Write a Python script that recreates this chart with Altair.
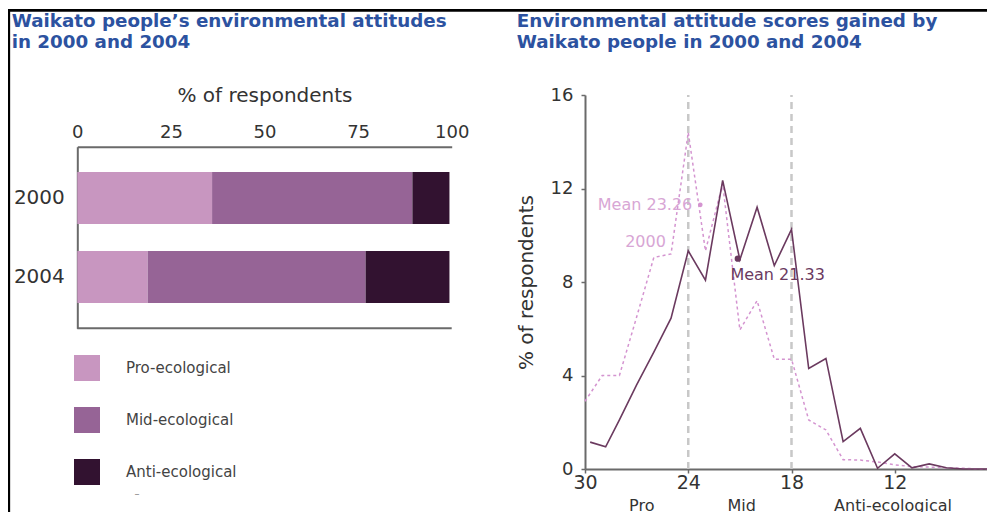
import altair as alt
import pandas as pd

# ---------------- data ----------------
years = ["2000", "2004"]
attitudes = ["Pro-ecological", "Mid-ecological", "Anti-ecological"]
share_2000 = [36.0, 53.5, 9.9]
share_2004 = [18.8, 58.2, 22.4]

scores = [30, 29, 28, 27, 26, 25, 24, 23, 22, 21, 20, 19, 18,
          17, 16, 15, 14, 13, 12, 11, 10, 9, 8, 7, 6]
scores_2004 = [29.7, 28.8, 28, 27, 26, 25, 24, 23, 22, 21, 20, 19, 18,
               17, 16, 15, 14, 13, 12, 11, 10, 9, 8, 7, 6]
pct_2000 = [2.9, 4.0, 4.0, 6.5, 9.05, 9.2, 14.4, 9.33, 12.2, 5.95, 7.2, 4.7, 4.7,
            2.1, 1.67, 0.4, 0.38, 0.3, 0.18, 0.1, 0.08, 0.05, 0.03, 0.0, 0.0]
pct_2004 = [1.15, 0.95, 2.1, 3.6, 5.0, 6.45, 9.33, 8.08, 12.35, 8.95, 11.2, 8.7, 10.25,
            4.3, 4.73, 1.17, 1.74, 0.03, 0.65, 0.05, 0.22, 0.05, 0.0, 0.0, 0.0]

mean_labels = ["Mean 23.26", "Mean 21.33"]
mean_dot_score = [23.3, 21.12]
mean_dot_pct = [11.3, 9.0]
mean_label_score = [23.3, 21.55]
mean_label_pct = [11.3, 8.3]
series_label = "2000"
series_label_score = 25.3
series_label_pct = 9.7

bar_ticks = [0, 25, 50, 75, 100]
score_ticks = [30, 24, 18, 12, 6]
pct_ticks = [0, 4, 8, 12, 16]
band_bounds = [24, 18]
band_names = ["Pro", "Mid", "Anti-ecological"]
band_label_score = [26.7, 20.9, 12.1]

left_title = "Waikato people\u2019s environmental attitudes\nin 2000 and 2004"
right_title = "Environmental attitude scores gained by\nWaikato people in 2000 and 2004"
axis_title = "% of respondents"

# ---------------- style ----------------
FONT = "DejaVu Sans"
PRO, MID, ANTI = "#c896c0", "#966496", "#321230"
C2000, C2004 = "#d494d0", "#6b3a5f"
C2000_TXT = "#d8a6d5"
TITLE_BLUE = "#2c52a0"
AXIS_GREY = "#6a6a6a"
TEXT = "#333333"

W, H = 979, 504

bar_x = alt.Scale(domain=[0, 100], range=[69.3, 443.7], nice=False, zero=False)
bar_y = alt.Scale(domain=years, range=[138.7, 320.3], paddingInner=0.34, paddingOuter=0.32)
sx = alt.Scale(domain=[30, 6], range=[577, 990], nice=False, zero=False)
sy = alt.Scale(domain=[0, 16], range=[461, 87], nice=False, zero=False)

# ---------------- tables ----------------
bar_rows = []
for yr, shares in zip(years, [share_2000, share_2004]):
    for i, (a, v) in enumerate(zip(attitudes, shares)):
        bar_rows.append({"year": yr, "attitude": a, "share": v, "rank": i})
bar_df = pd.DataFrame(bar_rows)

df2000 = pd.DataFrame({"score": scores, "pct": pct_2000})
df2004 = pd.DataFrame({"score": scores_2004, "pct": pct_2004})
dots_df = pd.DataFrame({"score": mean_dot_score, "pct": mean_dot_pct, "year": years})
mlab_df = pd.DataFrame({"score": mean_label_score, "pct": mean_label_pct,
                        "label": mean_labels, "year": years})
bounds_df = pd.DataFrame({"score": band_bounds})
bands_df = pd.DataFrame({"score": band_label_score, "name": band_names})

# ---------------- left panel ----------------
bars = alt.Chart(bar_df).mark_bar(strokeWidth=0, opacity=1).encode(
    x=alt.X("share:Q", stack="zero", scale=bar_x,
            axis=alt.Axis(orient="top", offset=-138.7, values=bar_ticks, title=axis_title,
                          titleFontSize=20, titlePadding=18, labelFontSize=18, labelPadding=5,
                          tickSize=0, labelFlush=False, domainColor=AXIS_GREY, domainWidth=2,
                          labelColor=TEXT, titleColor=TEXT)),
    y=alt.Y("year:N", scale=bar_y,
            axis=alt.Axis(orient="left", offset=-69.3, title=None, ticks=False,
                          labelFontSize=20, labelPadding=13, domainColor=AXIS_GREY,
                          domainWidth=2, labelColor=TEXT)),
    color=alt.Color("attitude:N", scale=alt.Scale(domain=attitudes, range=[PRO, MID, ANTI]),
                    legend=alt.Legend(orient="none", legendX=66, legendY=347, title=None,
                                      direction="vertical", symbolType="square",
                                      symbolSize=676, symbolStrokeWidth=0, symbolOpacity=1,
                                      labelFontSize=15, labelColor="#444444", labelOffset=26,
                                      rowPadding=26, padding=0)),
    order=alt.Order("rank:Q"),
)

bar_base = alt.Chart(pd.DataFrame({"lo": [0], "hi": [100]})).mark_rule(
    color=AXIS_GREY, strokeWidth=2).encode(
    x=alt.X("lo:Q", scale=bar_x, axis=None),
    x2="hi:Q",
    y=alt.value(320.3),
)

legend_dash = alt.Chart(pd.DataFrame({"t": ["\u2013"]})).mark_text(
    fontSize=10, color="#888888").encode(x=alt.value(129), y=alt.value(486), text="t:N")

# ---------------- right panel ----------------
guides = alt.Chart(bounds_df).mark_rule(color="#c8c8c8", strokeWidth=2.5, strokeDash=[7, 5]).encode(
    x=alt.X("score:Q", scale=sx, axis=None),
    y=alt.Y(datum=0, scale=sy, axis=None),
    y2=alt.Y2(datum=16),
)

line2000 = alt.Chart(df2000).mark_line(color=C2000, strokeWidth=1.5, strokeDash=[3, 3]).encode(
    x=alt.X("score:Q", scale=sx, axis=None),
    y=alt.Y("pct:Q", scale=sy, axis=None),
)

line2004 = alt.Chart(df2004).mark_line(color=C2004, strokeWidth=1.6).encode(
    x=alt.X("score:Q", scale=sx,
            axis=alt.Axis(orient="bottom", offset=-43, values=score_ticks, title=None,
                          tickSize=4, labelPadding=0, labelFontSize=19, labelFlush=False,
                          domainColor=AXIS_GREY, domainWidth=2, tickColor=AXIS_GREY,
                          tickWidth=1.5, labelColor=TEXT)),
    y=alt.Y("pct:Q", scale=sy,
            axis=alt.Axis(orient="left", offset=-577, values=pct_ticks, title=axis_title,
                          titleFontSize=20, titlePadding=14, tickSize=4, labelPadding=8,
                          labelFontSize=18, labelFlush=False, domainColor=AXIS_GREY,
                          domainWidth=2, tickColor=AXIS_GREY, tickWidth=1.5,
                          labelColor=TEXT, titleColor=TEXT)),
)

dot2000 = alt.Chart(dots_df).transform_filter(alt.datum.year == "2000").mark_circle(
    color=C2000, opacity=1, size=22).encode(
    x=alt.X("score:Q", scale=sx, axis=None), y=alt.Y("pct:Q", scale=sy, axis=None))
dot2004 = alt.Chart(dots_df).transform_filter(alt.datum.year == "2004").mark_circle(
    color=C2004, opacity=1, size=40).encode(
    x=alt.X("score:Q", scale=sx, axis=None), y=alt.Y("pct:Q", scale=sy, axis=None))

lab2000 = alt.Chart(mlab_df).transform_filter(alt.datum.year == "2000").mark_text(
    align="right", baseline="middle", dx=-8, fontSize=16, color=C2000_TXT).encode(
    x=alt.X("score:Q", scale=sx, axis=None), y=alt.Y("pct:Q", scale=sy, axis=None),
    text="label:N")
lab2004 = alt.Chart(mlab_df).transform_filter(alt.datum.year == "2004").mark_text(
    align="left", baseline="middle", fontSize=16, color=C2004).encode(
    x=alt.X("score:Q", scale=sx, axis=None), y=alt.Y("pct:Q", scale=sy, axis=None),
    text="label:N")
year_lab = alt.Chart(pd.DataFrame({"t": [series_label]})).mark_text(
    align="right", baseline="middle", fontSize=16, color=C2000_TXT).encode(
    x=alt.X(datum=series_label_score, scale=sx, axis=None),
    y=alt.Y(datum=series_label_pct, scale=sy, axis=None),
    text="t:N")

band_lab = alt.Chart(bands_df).mark_text(baseline="top", fontSize=16, color=TEXT).encode(
    x=alt.X("score:Q", scale=sx, axis=None),
    y=alt.Y(datum=-1.25, scale=sy, axis=None),
    text="name:N")

# ---------------- titles & frame ----------------
t_left = alt.Chart(pd.DataFrame({"t": [left_title]})).mark_text(
    align="left", baseline="alphabetic", fontSize=18.3, fontWeight="bold", color=TITLE_BLUE,
    lineBreak="\n", lineHeight=21).encode(x=alt.value(3.7), y=alt.value(19.3), text="t:N")
t_right = alt.Chart(pd.DataFrame({"t": [right_title]})).mark_text(
    align="left", baseline="alphabetic", fontSize=18.3, fontWeight="bold", color=TITLE_BLUE,
    lineBreak="\n", lineHeight=21).encode(x=alt.value(508.7), y=alt.value(19.3), text="t:N")

frame_top = alt.Chart(pd.DataFrame({"k": [0]})).mark_rule(color="black", strokeWidth=2.7).encode(
    x=alt.value(0), x2=alt.value(W), y=alt.value(2.3))
frame_left = alt.Chart(pd.DataFrame({"k": [0]})).mark_rule(color="black", strokeWidth=2.7).encode(
    x=alt.value(0.8), y=alt.value(1), y2=alt.value(H))

chart = alt.layer(
    bars, bar_base, legend_dash, guides, line2000, line2004, dot2000, dot2004,
    lab2000, lab2004, year_lab, band_lab, t_left, t_right, frame_top, frame_left,
).resolve_scale(
    x="independent", y="independent", color="independent"
).resolve_axis(
    x="independent", y="independent"
).properties(
    width=W, height=H, padding=0, autosize=alt.AutoSizeParams(type="none"),
).configure_view(
    strokeWidth=0
).configure_axis(
    grid=False, labelFont=FONT, titleFont=FONT, titleFontWeight="normal"
).configure_text(
    font=FONT
).configure_legend(
    labelFont=FONT
)

chart.save("out.html", embed_options={"renderer": "svg", "actions": False})
